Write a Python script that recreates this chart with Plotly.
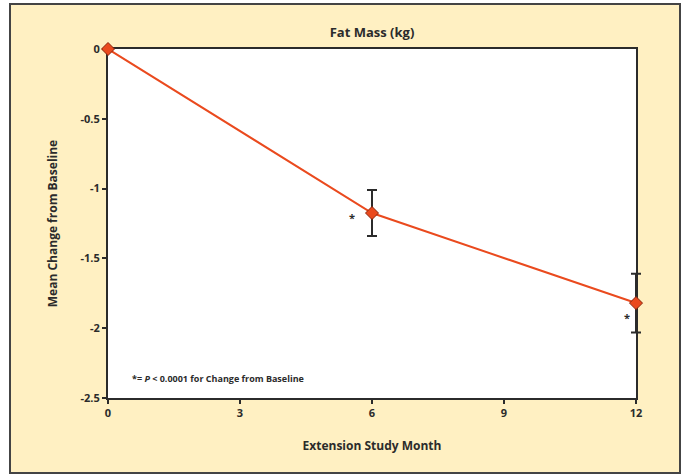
import plotly.graph_objects as go

months = [0, 6, 12]
mean_change = [0, -1.175, -1.82]
err_months = [6, 12]
err_means = [-1.175, -1.82]
err_vals = [0.165, 0.21]
x_ticks = [0, 3, 6, 9, 12]
y_ticks = [0, -0.5, -1, -1.5, -2, -2.5]
y_tick_labels = ["0", "-0.5", "-1", "-1.5", "-2", "-2.5"]

FONT = "Open Sans"
ORANGE = "#EA4A1E"
DARK = "#2b2b2b"

W, H = 685, 474
L, R, T, B = 108, 29, 49, 76
pw, ph = W - L - R, H - T - B
frame_w = 528  # pixel width of the framed plot area
dom = frame_w / pw
X_MAX = 12
Y_RANGE = [-2.5, 0]

def px_to_paper_x(px):
    return (px - L) / pw

def py_to_paper_y(py):
    return (H - B - py) / ph

fig = go.Figure()
# empty trace to keep the framed axes alive
fig.add_trace(go.Scatter(x=[], y=[], xaxis="x", yaxis="y", showlegend=False))
# data on an overlay subplot that extends slightly right so error bars at 12 are not clipped
fig.add_trace(go.Scatter(
    x=err_months, y=err_means, mode="markers", xaxis="x2", yaxis="y2",
    marker=dict(size=1, color="rgba(0,0,0,0)"),
    error_y=dict(type="data", array=err_vals, color=DARK, thickness=2, width=5),
    showlegend=False, hoverinfo="skip", cliponaxis=False))
fig.add_trace(go.Scatter(
    x=months, y=mean_change, mode="lines+markers", xaxis="x2", yaxis="y2",
    line=dict(color=ORANGE, width=2),
    marker=dict(symbol="diamond", size=10, color=ORANGE, line=dict(color="#8a240c", width=1)),
    showlegend=False, cliponaxis=False))

shapes = [
    dict(type="rect", xref="paper", yref="paper",
         x0=px_to_paper_x(10), x1=px_to_paper_x(680),
         y0=py_to_paper_y(473), y1=py_to_paper_y(4),
         fillcolor="#FFF0C2", line=dict(color="#444444", width=2), layer="below"),
    dict(type="rect", xref="x domain", yref="y domain", x0=0, x1=1, y0=0, y1=1,
         fillcolor="white", line=dict(width=0), layer="below"),
]

annotations = [
    dict(x=5.55, y=-1.21, xref="x", yref="y", text="<b>*</b>", showarrow=False,
         font=dict(family=FONT, size=11, color=DARK)),
    dict(x=11.8, y=-1.92, xref="x", yref="y", text="<b>*</b>", showarrow=False,
         font=dict(family=FONT, size=11, color=DARK)),
    dict(x=0.5, y=-2.36, xref="x", yref="y", xanchor="left", yanchor="middle",
         text="<b>*= <i>P</i> < 0.0001 for Change from Baseline</b>", showarrow=False,
         font=dict(family=FONT, size=9, color=DARK)),
]

fig.update_layout(
    width=W, height=H,
    margin=dict(l=L, r=R, t=T, b=B),
    paper_bgcolor="white", plot_bgcolor="rgba(0,0,0,0)",
    title=dict(text="<b>Fat Mass (kg)</b>", x=px_to_paper_x(372), xref="paper",
               y=1 - 32 / H, yanchor="middle", xanchor="center",
               font=dict(family=FONT, size=13, color=DARK)),
    xaxis=dict(domain=[0, dom], range=[0, X_MAX], tickvals=x_ticks,
               ticktext=[f"<b>{v}</b>" for v in x_ticks],
               showgrid=False, zeroline=False, showline=True, linecolor=DARK, linewidth=2,
               mirror=True, ticks="outside", ticklen=4, tickcolor=DARK, tickwidth=1.5,
               tickfont=dict(family=FONT, size=11, color=DARK),
               title=dict(text="<b>Extension Study Month</b>", standoff=22,
                          font=dict(family=FONT, size=12, color=DARK))),
    yaxis=dict(range=Y_RANGE, tickvals=y_ticks, ticktext=[f"<b>{t}</b>" for t in y_tick_labels],
               showgrid=False, zeroline=False, showline=True, linecolor=DARK, linewidth=2,
               mirror=True, ticks="outside", ticklen=4, tickcolor=DARK, tickwidth=1.5,
               tickfont=dict(family=FONT, size=11, color=DARK),
               title=dict(text="<b>Mean Change from Baseline</b>", standoff=20,
                          font=dict(family=FONT, size=12, color=DARK))),
    xaxis2=dict(domain=[0, 1], range=[0, X_MAX / dom], anchor="y2", visible=False,
                showgrid=False, zeroline=False),
    yaxis2=dict(domain=[0, 1], range=Y_RANGE, anchor="x2", visible=False,
                showgrid=False, zeroline=False),
    shapes=shapes, annotations=annotations,
)

fig.write_html("out.html")
